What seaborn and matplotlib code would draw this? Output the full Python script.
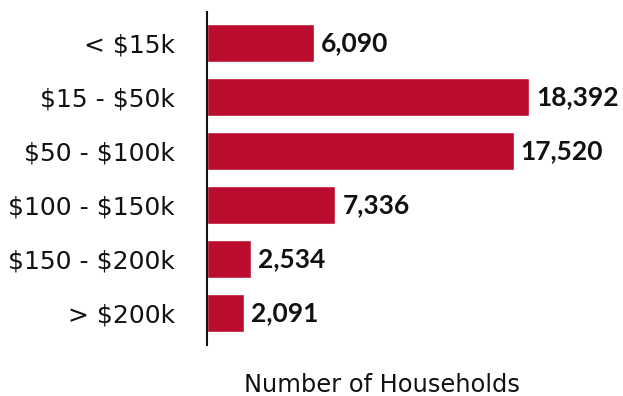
import matplotlib
matplotlib.use("Agg")
import matplotlib.pyplot as plt
import seaborn as sns
import pandas as pd

categories = ["< $15k", "$15 - $50k", "$50 - $100k", "$100 - $150k", "$150 - $200k", "> $200k"]
households = [6090, 18392, 17520, 7336, 2534, 2091]

df = pd.DataFrame({"income": categories, "households": households})

sns.set_theme(style="white")
plt.rcParams["font.family"] = ["DejaVu Sans"]
plt.rcParams["text.parse_math"] = False

fig = plt.figure(figsize=(6.23, 3.96), dpi=100)
ax = fig.add_axes([207/623, 1 - 345/396, (620 - 207)/623, 333/396])

sns.barplot(data=df, x="households", y="income", color="#BA0C2F", saturation=1,
            width=0.7, ax=ax, orient="h")

ax.set_xlim(0, 18392 * (620 - 208) / 321)
ax.set_ylim(5.59, -0.574)

for i, v in enumerate(households):
    ax.text(v + 400, i, f"{v:,}", va="center", ha="left", fontsize=19,
            fontweight="bold", color="#111111", family=["Lato", "DejaVu Sans"])

for s in ["top", "right", "bottom"]:
    ax.spines[s].set_visible(False)
ax.spines["left"].set_color("#111111")
ax.spines["left"].set_linewidth(1.5)
ax.set_xticks([])
ax.tick_params(axis="y", length=0, pad=23, labelsize=18, labelcolor="#111111")
ax.set_ylabel("")
ax.set_xlabel("")
fig.text(382/623, 1 - 385/396, "Number of Households", ha="center", va="center",
         fontsize=17.4, color="#111111")

fig.savefig("out.png", dpi=100)
